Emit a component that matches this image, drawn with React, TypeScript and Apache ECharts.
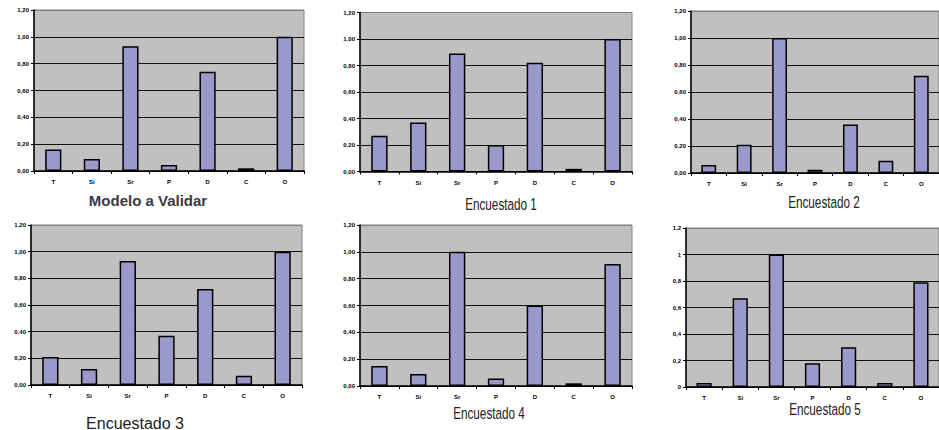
import React, { useEffect, useRef } from "react";
import * as echarts from "echarts";

const categories = ["T", "Si", "Sr", "P", "D", "C", "O"];
const modelo = [0.16, 0.09, 0.93, 0.045, 0.74, 0.02, 1.0];
const enc1 = [0.27, 0.37, 0.89, 0.2, 0.82, 0.02, 1.0];
const enc2 = [0.06, 0.21, 1.0, 0.025, 0.36, 0.09, 0.72];
const enc3 = [0.21, 0.12, 0.93, 0.37, 0.72, 0.07, 1.0];
const enc4 = [0.15, 0.09, 1.0, 0.055, 0.6, 0.02, 0.91];
const enc5 = [0.03, 0.67, 1.0, 0.18, 0.3, 0.03, 0.79];

const yTicksA = ["0,00", "0,20", "0,40", "0,60", "0,80", "1,00", "1,20"];
const yTicksB = ["0", "0,2", "0,4", "0,6", "0,8", "1", "1,2"];

const titles = ["Modelo a Validar", "Encuestado 1", "Encuestado 2", "Encuestado 3", "Encuestado 4", "Encuestado 5"];

export default function App() {
  const ref = useRef<HTMLDivElement>(null);
  useEffect(() => {
    if (!ref.current) return;
    const chart = echarts.init(ref.current, null, { renderer: "svg" });
    const panels = [
      { data: modelo, ticks: yTicksA, grid: { left: 34, top: 10, width: 270, height: 161 } },
      { data: enc1, ticks: yTicksA, grid: { left: 360, top: 12.5, width: 272, height: 159 } },
      { data: enc2, ticks: yTicksA, grid: { left: 691, top: 11, width: 250, height: 162 } },
      { data: enc3, ticks: yTicksA, grid: { left: 31, top: 225, width: 271, height: 160 } },
      { data: enc4, ticks: yTicksA, grid: { left: 360, top: 225, width: 272, height: 161 } },
      { data: enc5, ticks: yTicksB, grid: { left: 686, top: 228, width: 259, height: 159 } },
    ];
    const titlePos = [
      { x: 148, y: 200, size: 15, weight: "bold", sx: 1, color: "#3a3a44" },
      { x: 501, y: 204, size: 17, weight: "normal", sx: 0.69, color: "#222" },
      { x: 824, y: 202, size: 17, weight: "normal", sx: 0.69, color: "#222" },
      { x: 135, y: 423, size: 16, weight: "normal", sx: 1, color: "#222" },
      { x: 489, y: 413, size: 17, weight: "normal", sx: 0.69, color: "#222" },
      { x: 825, y: 409, size: 17, weight: "normal", sx: 0.69, color: "#222" },
    ];
    const splitColors = ["#000", "#111", "#111", "#111", "#111", "#111", "#808080"];
    const option: any = {
      animation: false,
      backgroundColor: "#fff",
      grid: panels.map((p) => ({
        ...p.grid,
        show: true,
        backgroundColor: "#c0c0c0",
        borderColor: "#808080",
        borderWidth: 1,
        containLabel: false,
      })),
      xAxis: panels.map((p, i) => ({
        type: "category",
        gridIndex: i,
        data: categories,
        boundaryGap: true,
        axisLine: { show: true, lineStyle: { color: "#000", width: 1.5 } },
        axisTick: { show: true, length: 3, lineStyle: { color: "#000" } },
        axisLabel: {
          margin: 8,
          fontSize: 6,
          fontWeight: "bold",
          color: "#000",
          fontFamily: "Liberation Sans",
        },
        splitLine: { show: false },
        z: 5,
      })),
      yAxis: panels.map((p, i) => ({
        type: "value",
        gridIndex: i,
        min: 0,
        max: 1.2,
        interval: 0.2,
        axisLine: { show: true, lineStyle: { color: "#000", width: 1.5 } },
        axisTick: { show: true, length: 3, lineStyle: { color: "#000" } },
        axisLabel: {
          margin: 5,
          fontSize: 6,
          fontWeight: "bold",
          color: "#000",
          fontFamily: "Liberation Sans",
          formatter: (v: number) => p.ticks[Math.round(v / 0.2)],
        },
        splitLine: { show: true, lineStyle: { color: splitColors, width: 1.2 } },
      })),
      series: panels.map((p, i) => ({
        type: "bar",
        xAxisIndex: i,
        yAxisIndex: i,
        data: p.data,
        barWidth: "42%",
        itemStyle: { color: "#9999cc", borderColor: "#000", borderWidth: 1.5 },
      })),
      graphic: titles.map((t, i) => ({
        type: "text",
        x: titlePos[i].x,
        y: titlePos[i].y,
        scaleX: titlePos[i].sx,
        style: {
          text: t,
          fontSize: titlePos[i].size,
          fontWeight: titlePos[i].weight,
          fontFamily: "Liberation Sans",
          fill: titlePos[i].color,
          align: "center",
          verticalAlign: "middle",
        },
      })),
    };
    chart.setOption(option);
    return () => chart.dispose();
  }, []);
  return (
    <div
      ref={ref}
      style={{ position: "fixed", left: 0, top: 0, width: 939, height: 430, background: "#fff" }}
    />
  );
}
